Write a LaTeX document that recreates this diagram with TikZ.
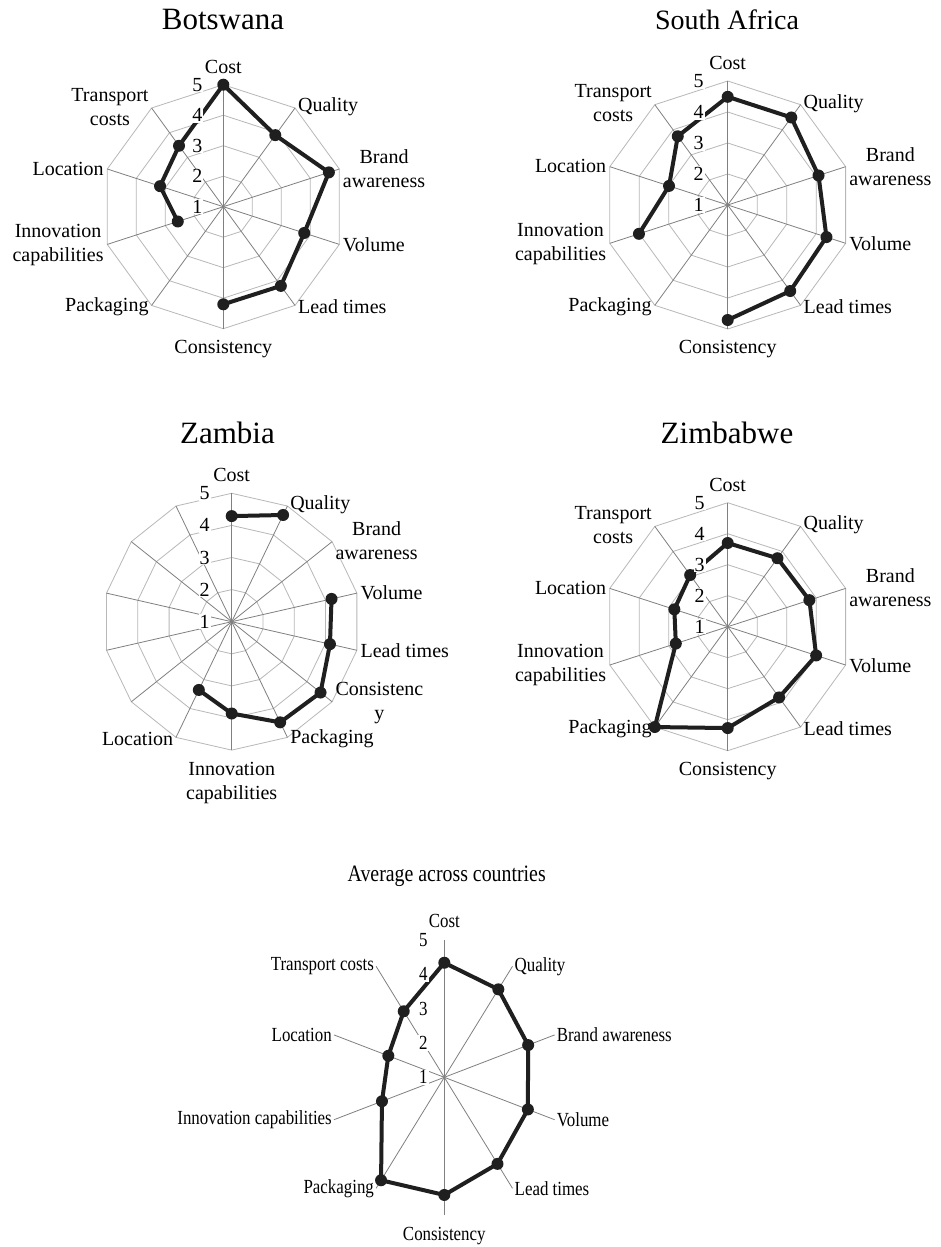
\documentclass[tikz,border=0pt]{standalone}
\usepackage{fontspec}
\setmainfont{Liberation Serif}
\newfontfamily\narrowserif[FakeStretch=0.845]{Liberation Serif}

\tikzset{
  ring/.style={draw=black!28, line width=0.8pt},
  spoke/.style={draw=black!50, line width=0.8pt},
  series/.style={draw=black!88, line width=4pt, line join=round},
  markdot/.style={fill=black!88},
  catlabel/.style={font=\fontsize{20}{24}\selectfont, align=center, inner sep=2pt},
  avglabel/.style={font=\narrowserif\fontsize{20}{24}\selectfont, align=center, inner sep=2pt},
  scalelabel/.style={font=\fontsize{20}{24}\selectfont, fill=white, inner sep=1pt},
  charttitle/.style={font=\fontsize{31}{36}\selectfont, anchor=base},
}

\begin{document}
\begin{tikzpicture}[x=1pt, y=1pt]
    \useasboundingbox[fill=white] (0,0) rectangle (940,-1247);

    % Botswana
    \node[charttitle] (bw-title) at (223,-30) {Botswana};
    \begin{scope}[shift={(223.3pt,-206.7pt)}, x=30.5pt, y=30.5pt]
        \foreach \k in {1,...,4}
            \draw[ring] (90:\k) \foreach \i in {1,...,9} { -- ({90-36*\i}:\k) } -- cycle;
        \foreach \i in {0,...,9}
            \draw[spoke] (0,0) -- ({90-36*\i}:4);
        \foreach \i/\txt/\anc/\rr in {0/Cost/south/4.3, 1/Quality/west/4.05, 2/{Brand\\awareness}/west/4.05,
                3/Volume/west/4.05, 4/{Lead times}/west/4.05, 5/Consistency/north/4.3, 6/Packaging/east/4.05,
                7/{Innovation\\capabilities}/east/4.05, 8/Location/east/4.05, 9/{Transport\\costs}/east/4.05}
            \node[catlabel, anchor=\anc] (bw-c\i) at ({90-36*\i}:\rr) {\txt};
        \draw[series] (-162:1.57) -- (162:2.18) -- (126:2.47) -- (90:4) -- (54:2.90)
            -- (18:3.64) -- (-18:2.79) -- (-54:3.21) -- (-90:3.20);
        \foreach \a/\r in {-162/1.57, 162/2.18, 126/2.47, 90/4, 54/2.90, 18/3.64, -18/2.79, -54/3.21, -90/3.20}
            \fill[markdot] (\a:\r) circle (6pt);
        \foreach \k in {1,...,5}
            \node[scalelabel, xshift=-26pt] (bw-n\k) at (0,\k-1) {\k};
    \end{scope}

    % South Africa
    \node[charttitle, font=\fontsize{28}{34}\selectfont] (sa-title) at (727,-29.3) {South Africa};
    \begin{scope}[shift={(727.7pt,-205pt)}, x=31pt, y=31pt]
        \foreach \k in {1,...,4}
            \draw[ring] (90:\k) \foreach \i in {1,...,9} { -- ({90-36*\i}:\k) } -- cycle;
        \foreach \i in {0,...,9}
            \draw[spoke] (0,0) -- ({90-36*\i}:4);
        \foreach \i/\txt/\anc/\rr in {0/Cost/south/4.3, 1/Quality/west/4.05, 2/{Brand\\awareness}/west/4.05,
                3/Volume/west/4.05, 4/{Lead times}/west/4.05, 5/Consistency/north/4.3, 6/Packaging/east/4.05,
                7/{Innovation\\capabilities}/east/4.05, 8/Location/east/4.05, 9/{Transport\\costs}/east/4.05}
            \node[catlabel, anchor=\anc] (sa-c\i) at ({90-36*\i}:\rr) {\txt};
        \draw[series] (-162:3.01) -- (162:1.99) -- (126:2.74) -- (90:3.49) -- (54:3.49)
            -- (18:3.08) -- (-18:3.35) -- (-54:3.43) -- (-90:3.71);
        \foreach \a/\r in {-162/3.01, 162/1.99, 126/2.74, 90/3.49, 54/3.49, 18/3.08, -18/3.35, -54/3.43, -90/3.71}
            \fill[markdot] (\a:\r) circle (6pt);
        \foreach \k in {1,...,5}
            \node[scalelabel, xshift=-29pt] (sa-n\k) at (0,\k-1) {\k};
    \end{scope}

    % Zambia
    \node[charttitle] (zm-title) at (227.5,-443.3) {Zambia};
    \begin{scope}[shift={(231.7pt,-621.7pt)}, x=32.1pt, y=32.1pt]
        \foreach \k in {1,...,4}
            \draw[ring] (90:\k) \foreach \i in {1,...,13} { -- ({90-360/14*\i}:\k) } -- cycle;
        \foreach \i in {0,...,13}
            \draw[spoke] (0,0) -- ({90-360/14*\i}:4);
        \foreach \i/\txt/\anc/\rr in {0/Cost/south/4.3, 1/Quality/west/4.05, 2/{Brand\\awareness}/west/4.05,
                3/Volume/west/4.05, 4/{Lead times}/west/4.05, 5/{Consistenc\\y}/west/4.05, 6/Packaging/west/4.05,
                7/{Innovation\\capabilities}/north/4.3, 8/Location/east/4.05}
            \node[catlabel, anchor=\anc] (zm-c\i) at ({90-360/14*\i}:\rr) {\txt};
        \draw[series] (90:3.29) -- (64.286:3.69);
        \draw[series] (12.857:3.19) -- (-12.857:3.14) -- (-38.571:3.54) -- (-64.286:3.48)
            -- (-90:2.86) -- (-115.714:2.36);
        \foreach \a/\r in {90/3.29, 64.286/3.69, 12.857/3.19, -12.857/3.14, -38.571/3.54, -64.286/3.48, -90/2.86, -115.714/2.36}
            \fill[markdot] (\a:\r) circle (6pt);
        \foreach \k in {1,...,5}
            \node[scalelabel, xshift=-27pt] (zm-n\k) at (0,\k-1) {\k};
    \end{scope}

    % Zimbabwe
    \node[charttitle] (zw-title) at (727,-443.3) {Zimbabwe};
    \begin{scope}[shift={(727.7pt,-626.7pt)}, x=31pt, y=31pt]
        \foreach \k in {1,...,4}
            \draw[ring] (90:\k) \foreach \i in {1,...,9} { -- ({90-36*\i}:\k) } -- cycle;
        \foreach \i in {0,...,9}
            \draw[spoke] (0,0) -- ({90-36*\i}:4);
        \foreach \i/\txt/\anc/\rr in {0/Cost/south/4.3, 1/Quality/west/4.05, 2/{Brand\\awareness}/west/4.05,
                3/Volume/west/4.05, 4/{Lead times}/west/4.05, 5/Consistency/north/4.3, 6/Packaging/east/4.05,
                7/{Innovation\\capabilities}/east/4.05, 8/Location/east/4.05, 9/{Transport\\costs}/east/4.05}
            \node[catlabel, anchor=\anc] (zw-c\i) at ({90-36*\i}:\rr) {\txt};
        \draw[series] (90:2.70) -- (54:2.73) -- (18:2.77) -- (-18:3.0) -- (-54:2.82) -- (-90:3.27)
            -- (-126:4.0) -- (-162:1.76) -- (162:1.81) -- (126:2.06) -- cycle;
        \foreach \a/\r in {90/2.70, 54/2.73, 18/2.77, -18/3.0, -54/2.82, -90/3.27, -126/4.0, -162/1.76, 162/1.81, 126/2.06}
            \fill[markdot] (\a:\r) circle (6pt);
        \foreach \k in {1,...,5}
            \node[scalelabel, xshift=-28pt] (zw-n\k) at (0,\k-1) {\k};
    \end{scope}

    % Average across countries
    \node[charttitle, font=\narrowserif\fontsize{23.5}{28}\selectfont] (av-title) at (446.7,-881.7) {Average across countries};
    \begin{scope}[shift={(444.3pt,-1077.3pt)}, x=29pt, y=34.3pt]
        \foreach \i in {0,...,9}
            \draw[spoke] (0,0) -- ({90-36*\i}:4);
        \foreach \i/\txt/\anc/\rr in {0/Cost/south/4.3, 1/Quality/west/4, 2/{Brand awareness}/west/4,
                3/Volume/west/4, 4/{Lead times}/west/4, 5/Consistency/north/4.3, 6/Packaging/east/4,
                7/{Innovation capabilities}/east/4, 8/Location/east/4, 9/{Transport costs}/east/4}
            \node[avglabel, anchor=\anc] (av-c\i) at ({90-36*\i}:\rr) {\txt};
        \draw[series] (90:3.34) -- (54:3.17) -- (18:3.04) -- (-18:3.03) -- (-54:3.12) -- (-90:3.43)
            -- (-126:3.71) -- (-162:2.26) -- (162:2.03) -- (126:2.38) -- cycle;
        \foreach \a/\r in {90/3.34, 54/3.17, 18/3.04, -18/3.03, -54/3.12, -90/3.43, -126/3.71, -162/2.26, 162/2.03, 126/2.38}
            \fill[markdot] (\a:\r) circle (6pt);
        \foreach \k in {1,...,5}
            \node[scalelabel, font=\narrowserif\fontsize{20}{24}\selectfont, xshift=-21pt] (av-n\k) at (0,\k-1) {\k};
    \end{scope}
\end{tikzpicture}
\end{document}
